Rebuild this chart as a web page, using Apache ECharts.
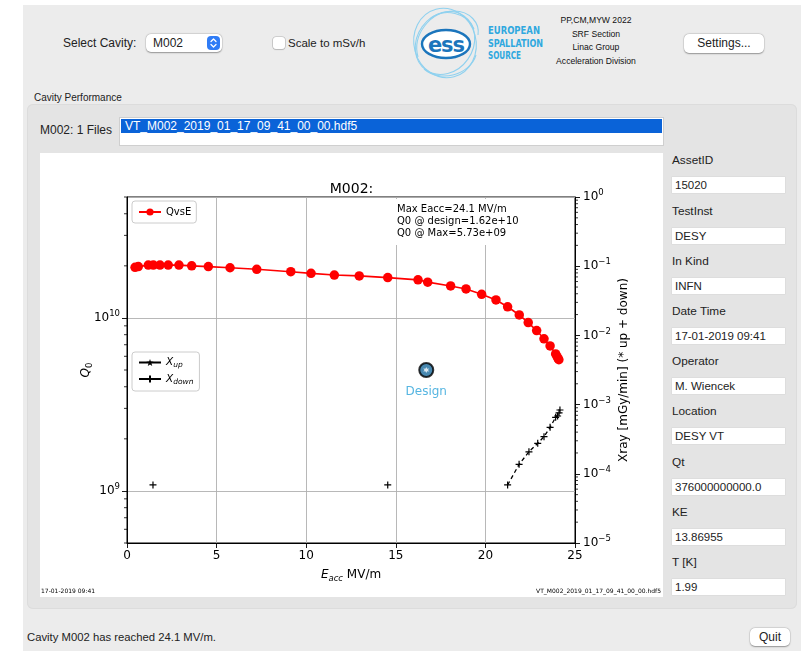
<!DOCTYPE html>
<html>
<head>
<meta charset="utf-8">
<title>Cavity Performance</title>
<script src="https://cdn.jsdelivr.net/npm/echarts@6/dist/echarts.min.js"></script>
<style>
  html, body { margin: 0; padding: 0; }
  body {
    width: 805px; height: 651px; overflow: hidden; position: relative; background: #fff;
    font-family: "Helvetica Neue", "Liberation Sans", Arial, sans-serif; color: #222;
  }
  .a { position: absolute; white-space: nowrap; }
  #win { left: 23px; top: 5px; width: 778px; height: 646px; background: #ececec; }
  .lbl { font-size: 12px; height: 16px; line-height: 16px; }
  .btn {
    background: #fff; border-radius: 5px; text-align: center; font-size: 12px;
    box-shadow: 0 0.5px 1.5px rgba(0,0,0,0.35), 0 0 0 0.5px rgba(0,0,0,0.08);
  }
  .field {
    left: 672px; width: 113px; height: 16px; line-height: 16px; background: #fff;
    font-size: 11.5px; padding-left: 3px; box-sizing: border-box;
    box-shadow: 0 0 0 0.5px #d6d6d6;
  }
  #group { left: 27px; top: 104px; width: 770px; height: 505px; background: #e4e4e4;
           border-radius: 6px; box-shadow: inset 0 0 0 1px #dcdcdc; }
  #chart { left: 40px; top: 153px; width: 623px; height: 444px; background: #fff; }
</style>
</head>
<body>
<div id="win" class="a"></div>

<!-- toolbar -->
<div class="a lbl" style="left:63px;top:35px;">Select Cavity:</div>
<div class="a btn" style="left:146px;top:34px;width:76px;height:18px;"></div>
<div class="a lbl" id="comboText" style="left:153px;top:35px;font-size:12px;"></div>
<div class="a" style="left:207px;top:36px;width:13px;height:14px;background:#2f7cf6;border-radius:4px;">
  <svg width="13" height="14" viewBox="0 0 13 14" style="display:block">
    <path d="M4,5.5 L6.5,3 L9,5.5 M4,8.5 L6.5,11 L9,8.5" fill="none" stroke="#fff" stroke-width="1.3" stroke-linecap="round" stroke-linejoin="round"/>
  </svg>
</div>
<div class="a" style="left:273px;top:37px;width:12px;height:12px;background:#fff;border-radius:3px;box-shadow:0 0 0 0.6px #b5b5b5, 0 0.5px 1px rgba(0,0,0,0.2);"></div>
<div class="a lbl" style="left:288px;top:35px;font-size:11.5px;">Scale to mSv/h</div>

<!-- logo -->
<svg class="a" style="left:410px;top:5px;" width="140" height="78" viewBox="0 0 140 78">
  <g fill="none" stroke="#8fd1ef" stroke-width="1.1">
    <ellipse cx="35" cy="38" rx="31" ry="35" transform="rotate(-15 35 38)"/>
    <ellipse cx="35" cy="38" rx="28" ry="33" transform="rotate(35 35 38)"/>
    <path d="M8,52 C2,30 20,6 44,6 C60,6 70,18 68,30"/>
    <path d="M14,64 C30,78 60,70 66,50"/>
    <path d="M20,14 C34,2 58,8 64,24"/>
  </g>
  <ellipse cx="36" cy="39" rx="24" ry="14" fill="#fff" stroke="#1b75bc" stroke-width="2.4"/>
  <text x="36" y="47" text-anchor="middle" font-family="DejaVu Sans, Liberation Sans" font-weight="bold" font-size="21" fill="#1b75bc" letter-spacing="-1">ess</text>
  <g font-family="DejaVu Sans Condensed, DejaVu Sans, Liberation Sans" font-weight="bold" font-size="10" fill="#2fa8df">
    <text x="78" y="29" textLength="52" lengthAdjust="spacingAndGlyphs">EUROPEAN</text>
    <text x="78" y="42" textLength="55" lengthAdjust="spacingAndGlyphs">SPALLATION</text>
    <text x="78" y="54" textLength="33" lengthAdjust="spacingAndGlyphs">SOURCE</text>
  </g>
</svg>
<div class="a" style="left:536px;top:14px;width:120px;text-align:center;font-size:8.6px;line-height:13.7px;color:#111;">
  PP,CM,MYW 2022<br>SRF Section<br>Linac Group<br>Acceleration Division
</div>
<div class="a btn" style="left:684px;top:34px;width:80px;height:19px;line-height:19px;">Settings...</div>

<!-- performance group -->
<div class="a" style="left:34px;top:91px;font-size:10px;line-height:14px;">Cavity Performance</div>
<div id="group" class="a"></div>
<div class="a lbl" id="filesLabel" style="left:40px;top:122px;"></div>
<div class="a" style="left:120px;top:118px;width:543px;height:27px;background:#fff;box-shadow:0 0 0 1px #cfcfcf;"></div>
<div class="a" id="fileRow" style="left:121px;top:119px;width:541px;height:14px;line-height:14px;background:#0a63d8;color:#fff;font-size:12px;padding-left:4px;box-sizing:border-box;"></div>
<div id="chart" class="a"></div>
<div id="panel"></div>

<!-- status bar -->
<div class="a lbl" id="status" style="left:27px;top:629px;font-size:11.3px;"></div>
<div class="a btn" style="left:750px;top:628px;width:40px;height:18px;line-height:18px;">Quit</div>

<script>
// ---- test record ----
const cavity = 'M002';
const fileName = 'VT_M002_2019_01_17_09_41_00_00.hdf5';
const testDate = '17-01-2019 09:41';

// Q0 versus accelerating gradient
const eacc = [0.45, 0.63, 1.19, 1.47, 1.84, 2.30, 2.90, 3.61, 4.54, 5.75, 7.24, 9.14, 10.27, 11.57,
              12.96, 14.55, 16.24, 16.78, 18.06, 18.92, 19.79, 20.59, 21.24, 21.89, 22.39, 22.86,
              23.27, 23.61, 23.92, 24.00, 24.06, 24.10];
const q0 = [1.96e10, 1.98e10, 2.02e10, 2.02e10, 2.02e10, 2.02e10, 2.02e10, 2.00e10, 1.98e10, 1.95e10,
            1.91e10, 1.85e10, 1.81e10, 1.77e10, 1.75e10, 1.71e10, 1.66e10, 1.61e10, 1.53e10, 1.47e10,
            1.37e10, 1.27e10, 1.16e10, 1.04e10, 9.4e9, 8.45e9, 7.57e9, 6.89e9, 6.19e9, 5.98e9,
            5.82e9, 5.73e9];

// X-ray dose rate [mGy/min]
const xrayUpE = [];
const xrayUpDose = [];
const xrayLoneE = [1.45, 14.55];
const xrayLoneDose = [6.9e-5, 6.9e-5];
const xrayDownE = [21.24, 21.88, 22.43, 22.92, 23.27, 23.61, 23.92, 24.03, 24.11, 24.16];
const xrayDownDose = [6.9e-5, 1.37e-4, 2.08e-4, 2.76e-4, 3.44e-4, 4.7e-4, 6.55e-4, 6.84e-4, 7.6e-4, 8.35e-4];

// design point
const designE = [16.7];
const designQ0 = [5.0e9];
const q0AtDesign = 1.62e10;

// axes
const eaccRange = [0, 25];
const eaccStep = 5;
const q0Range = [5e8, 5e10];
const xrayRange = [1e-5, 1];
const q0MinorDecades = [1e8, 1e9, 1e10];
const xrayMinorDecades = [1e-5, 1e-4, 1e-3, 1e-2, 1e-1];
const minorSteps = [2, 3, 4, 5, 6, 7, 8, 9];

// cavity data sheet
const infoLabels = ['AssetID', 'TestInst', 'In Kind', 'Date Time', 'Operator', 'Location', 'Qt', 'KE', 'T [K]'];
const infoValues = ['15020', 'DESY', 'INFN', testDate, 'M. Wiencek', 'DESY VT', '376000000000.0', '13.86955', '1.99'];
const infoRows = [160, 211, 261, 311, 361, 411, 462, 512, 562];

// ---- widgets ----
document.getElementById('comboText').textContent = cavity;
document.getElementById('filesLabel').textContent = cavity + ': 1 Files';
document.getElementById('fileRow').textContent = fileName;
const panel = document.getElementById('panel');
infoLabels.forEach((name, i) => {
  const l = document.createElement('div');
  l.className = 'a lbl';
  l.style.left = '672px'; l.style.top = (infoRows[i] - 8) + 'px'; l.style.fontSize = '11.8px';
  l.textContent = name;
  panel.appendChild(l);
  const f = document.createElement('div');
  f.className = 'a field';
  f.style.top = (infoRows[i] + 17) + 'px';
  f.textContent = infoValues[i];
  panel.appendChild(f);
});

function sci(v) {
  const parts = v.toExponential(2).split('e');
  let ex = parts[1];
  const sign = ex[0] === '-' ? '-' : '+';
  ex = ex.replace(/[+-]/, '');
  if (ex.length < 2) ex = '0' + ex;
  return parts[0] + 'e' + sign + ex;
}
const iMax = eacc.indexOf(Math.max(...eacc));
const maxE = eacc[iMax].toFixed(1);
document.getElementById('status').textContent = 'Cavity ' + cavity + ' has reached ' + maxE + ' MV/m.';

// ---- plot ----
const MPL = 'DejaVu Sans';
const PLUS = 'path://M0,5L10,5M5,0L5,10';
const STAR5 = 'path://M10,0L12.35,6.76L19.51,6.91L13.8,11.24L15.88,18.09L10,14L4.12,18.09L6.2,11.24L0.49,6.91L7.65,6.76Z';
const STAR6 = 'path://M10,0L12.5,5.67L18.66,5L15,10L18.66,15L12.5,14.33L10,20L7.5,14.33L1.34,15L5,10L1.34,5L7.5,5.67Z';

const pow10Label = v => {
  const e = Math.round(Math.log10(v));
  return '{b|10}{e|' + (e < 0 ? '\u2212' + (-e) : e) + '}';
};
const powRich = {
  b: { fontFamily: MPL, fontSize: 12, color: '#000' },
  e: { fontFamily: MPL, fontSize: 8.5, color: '#000', padding: [0, 0, 8, 0] }
};

const pairs = (xs, ys) => xs.map((x, i) => [x, ys[i]]);
const xrayDownData = [];
xrayLoneE.forEach((x, i) => { xrayDownData.push([x, xrayLoneDose[i]]); xrayDownData.push(['-', '-']); });
pairs(xrayDownE, xrayDownDose).forEach(p => xrayDownData.push(p));

const minorValues = (decades, lo, hi) => {
  const out = [];
  decades.forEach(d => minorSteps.forEach(m => { const v = d * m; if (v >= lo * 0.999 && v <= hi * 1.001) out.push(v); }));
  return out;
};
const minorTick = dir => (params, api) => {
  const p = api.coord([api.value(0), api.value(1)]);
  return { type: 'line', shape: { x1: p[0], y1: p[1], x2: p[0] + dir * 3, y2: p[1] },
           style: { stroke: '#000', lineWidth: 0.8 } };
};

const chart = echarts.init(document.getElementById('chart'), null, { renderer: 'canvas' });
chart.setOption({
  animation: false,
  backgroundColor: '#fff',
  title: {
    text: cavity + ':', left: 'center', top: 24,
    textStyle: { fontFamily: MPL, fontSize: 14, fontWeight: 'normal', color: '#000' }
  },
  grid: { left: 87, right: 88, top: 44, bottom: 54, show: true, borderColor: '#000', borderWidth: 1, backgroundColor: 'transparent' },
  legend: [
    {
      data: ['QvsE'], left: 92, top: 48, orient: 'vertical',
      itemWidth: 22, itemHeight: 9, itemGap: 4, padding: [6, 5, 6, 6],
      backgroundColor: 'rgba(255,255,255,0.85)', borderColor: '#cccccc', borderWidth: 1, borderRadius: 3,
      textStyle: { fontFamily: MPL, fontSize: 10, color: '#000' }
    },
    {
      data: ['X_up', 'X_down'], left: 92, top: 199, orient: 'vertical',
      itemWidth: 22, itemHeight: 9, itemGap: 4, padding: [5, 6, 5, 6],
      backgroundColor: 'rgba(255,255,255,0.85)', borderColor: '#cccccc', borderWidth: 1, borderRadius: 3,
      lineStyle: { type: 'solid' },
      formatter: n => '{i|X}{s|' + n.split('_')[1] + '}',
      textStyle: {
        fontFamily: MPL, fontSize: 10, color: '#000',
        rich: {
          i: { fontFamily: MPL, fontStyle: 'italic', fontSize: 10.5, color: '#000' },
          s: { fontFamily: MPL, fontStyle: 'italic', fontSize: 7.5, color: '#000', padding: [6, 0, 0, 0] }
        }
      }
    }
  ],
  xAxis: {
    type: 'value', min: eaccRange[0], max: eaccRange[1], interval: eaccStep,
    axisLine: { show: true, lineStyle: { color: '#000', width: 1 } },
    axisTick: { show: true, length: 5, lineStyle: { color: '#000', width: 0.9 } },
    axisLabel: { color: '#000', fontFamily: MPL, fontSize: 12, margin: 7 },
    splitLine: { show: true, lineStyle: { color: '#b0b0b0', width: 0.9 } },
    name: '{i|E}{s|acc}{n| MV/m}', nameLocation: 'middle', nameGap: 24, nameMoveOverlap: false,
    nameTextStyle: {
      fontFamily: MPL, fontSize: 12, color: '#000',
      rich: {
        i: { fontFamily: MPL, fontStyle: 'italic', fontSize: 12, color: '#000' },
        s: { fontFamily: MPL, fontStyle: 'italic', fontSize: 8.5, color: '#000', padding: [7, 0, 0, 0] },
        n: { fontFamily: MPL, fontSize: 12, color: '#000' }
      }
    }
  },
  yAxis: [
    {
      type: 'log', logBase: 10, min: q0Range[0], max: q0Range[1], position: 'left',
      axisLine: { show: true, lineStyle: { color: '#000', width: 1 } },
      axisTick: { show: true, length: 5, lineStyle: { color: '#000', width: 0.9 } },
      axisLabel: { formatter: pow10Label, rich: powRich, margin: 7, showMinLabel: false, showMaxLabel: false },
      splitLine: { show: true, lineStyle: { color: '#b0b0b0', width: 0.9 } },
      name: '{i|Q}{s|0}', nameLocation: 'middle', nameRotate: 90, nameGap: 33, nameMoveOverlap: false,
      nameTextStyle: {
        rich: {
          i: { fontFamily: MPL, fontStyle: 'italic', fontSize: 12, color: '#000' },
          s: { fontFamily: MPL, fontSize: 8.5, color: '#000', padding: [7, 0, 0, 0] }
        }
      }
    },
    {
      type: 'log', logBase: 10, min: xrayRange[0], max: xrayRange[1], position: 'right',
      axisLine: { show: true, lineStyle: { color: '#000', width: 1 } },
      axisTick: { show: true, length: 5, lineStyle: { color: '#000', width: 0.9 } },
      axisLabel: { formatter: pow10Label, rich: powRich, margin: 8 },
      splitLine: { show: false },
      name: 'Xray [mGy/min] (* up + down)', nameLocation: 'middle', nameRotate: 90, nameGap: 43, nameMoveOverlap: false,
      nameTextStyle: { fontFamily: MPL, fontSize: 12, color: '#000' }
    }
  ],
  graphic: [
    { type: 'rect', left: 354, top: 46, z: 1, shape: { width: 168, height: 46 }, style: { fill: '#fff' } },
    {
      type: 'text', left: 357, top: 51, z: 5,
      style: {
        text: 'Max Eacc=' + maxE + ' MV/m\nQ0 @ design=' + sci(q0AtDesign) + '\nQ0 @ Max=' + sci(q0[iMax]),
        fontFamily: MPL, fontSize: 10, lineHeight: 11.6, fill: '#000'
      }
    },
    { type: 'text', left: 1, top: 435, z: 5, style: { text: testDate, fontFamily: MPL, fontSize: 6, fill: '#000' } },
    { type: 'text', right: 2, top: 435, z: 5, style: { text: fileName, fontFamily: MPL, fontSize: 6, fill: '#000' } }
  ],
  series: [
    {
      name: 'QvsE', type: 'line', yAxisIndex: 0, z: 3,
      data: pairs(eacc, q0),
      symbol: 'circle', symbolSize: 9.5, showSymbol: true,
      itemStyle: { color: '#ff0000', borderWidth: 0 },
      lineStyle: { color: '#ff0000', width: 1.6 }
    },
    {
      name: 'X_up', type: 'line', yAxisIndex: 1, z: 3,
      data: pairs(xrayUpE, xrayUpDose),
      symbol: STAR5, symbolSize: 8,
      itemStyle: { color: '#000', borderWidth: 0 },
      lineStyle: { color: '#000', width: 1.2 }
    },
    {
      name: 'X_down', type: 'line', yAxisIndex: 1, z: 3, connectNulls: false,
      data: xrayDownData,
      symbol: PLUS, symbolSize: 7,
      itemStyle: { color: '#000', borderColor: '#000', borderWidth: 1.2 },
      lineStyle: { color: '#000', width: 1.3, type: [4, 3] }
    },
    {
      name: 'Design', type: 'scatter', yAxisIndex: 0, z: 4,
      data: pairs(designE, designQ0),
      symbol: 'circle', symbolSize: 14,
      itemStyle: { color: '#1a6a9c', borderColor: '#000', borderWidth: 2 },
      label: { show: true, position: 'bottom', distance: 8, formatter: 'Design',
               fontFamily: MPL, fontSize: 12, color: '#2ba2da' }
    },
    {
      name: 'DesignCore', type: 'scatter', yAxisIndex: 0, z: 5, silent: true,
      data: pairs(designE, designQ0),
      symbol: STAR6, symbolSize: 6,
      itemStyle: { color: '#fff' }
    },
    {
      name: 'q0Minor', type: 'custom', yAxisIndex: 0, silent: true, clip: false, z: 5,
      data: minorValues(q0MinorDecades, q0Range[0], q0Range[1]).map(v => [eaccRange[0], v]),
      renderItem: minorTick(-1)
    },
    {
      name: 'xrayMinor', type: 'custom', yAxisIndex: 1, silent: true, clip: false, z: 5,
      data: minorValues(xrayMinorDecades, xrayRange[0], xrayRange[1]).map(v => [eaccRange[1], v]),
      renderItem: minorTick(1)
    }
  ]
});
</script>
</body>
</html>
